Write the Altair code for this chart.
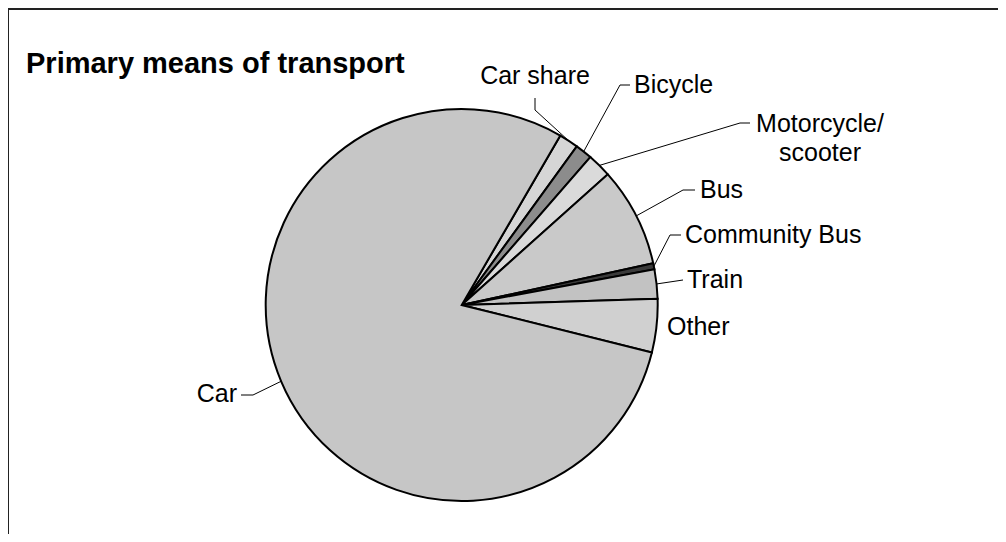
import math
import altair as alt
import pandas as pd

# ---------------- data ----------------
categories = ["Car share", "Bicycle", "Motorcycle/scooter", "Bus",
              "Community Bus", "Train", "Other", "Car"]
shares = [1.6, 1.4, 2.0, 8.2, 0.5, 2.4, 4.4, 79.5]
label_texts = ["Car share", "Bicycle", "Motorcycle/\nscooter", "Bus",
               "Community Bus", "Train", "Other", "Car"]
title_text = "Primary means of transport"

# ---------------- styles / layout ----------------
fills = ["#d6d6d6", "#8c8c8c", "#dadada", "#c9c9c9",
         "#3a3a3a", "#c2c2c2", "#d0d0d0", "#c6c6c6"]
FONT = "Liberation Sans"
W, H = 990, 526
OFF = 8  # page margin
CX, CY = 461.7 - OFF, 305 - OFF
R = 196
START = math.radians(30.2)

# label anchor (page coords) and alignment
label_x = [535, 634, 820, 700, 685, 687, 667, 237]
label_y = [76, 85, 124, 190, 235, 280, 327, 394]
label_align = ["center", "left", "center", "left", "left", "left", "left", "right"]
# leader line elbow/end points (page coords), after the slice edge point
leader_pts = [
    [(535, 110), (535, 98)],
    [(620, 85), (630, 85)],
    [(740, 123), (750, 123)],
    [(683, 190), (695, 190)],
    [(670, 235), (681, 235)],
    [(683, 280)],
    [],
    [(253, 395), (241, 395)],
]

# ---------------- tables ----------------
pie_df = pd.DataFrame({"category": categories, "share": shares,
                       "order": list(range(len(categories))), "fill": fills})

total = sum(shares)
rows = []
cum = 0.0
for i, (cat, s) in enumerate(zip(categories, shares)):
    mid = START + 2 * math.pi * (cum + s / 2) / total
    cum += s
    pts = leader_pts[i]
    if not pts:
        continue
    ex, ey = CX + R * math.sin(mid), CY - R * math.cos(mid)
    rows.append({"name": cat, "k": 0, "px": ex, "py": ey})
    for k, (px, py) in enumerate(pts, start=1):
        rows.append({"name": cat, "k": k, "px": px - OFF, "py": py - OFF})
leader_df = pd.DataFrame(rows)

lab_df = pd.DataFrame({
    "text": label_texts,
    "lx": [x - OFF for x in label_x],
    "ly": [y - OFF for y in label_y],
    "align": label_align,
})

# ---------------- layers ----------------
pie = alt.Chart(pie_df).mark_arc(outerRadius=R, stroke="black", strokeWidth=2).encode(
    theta=alt.Theta("share:Q", stack=True,
                    scale=alt.Scale(range=[START, START + 2 * math.pi])),
    order=alt.Order("order:Q"),
    color=alt.Color("fill:N", scale=None),
    x=alt.value(CX), y=alt.value(CY),
)

leaders = alt.Chart(leader_df).mark_line(color="black", strokeWidth=1).encode(
    x=alt.X("px:Q", scale=None),
    y=alt.Y("py:Q", scale=None),
    detail="name:N",
    order="k:Q",
)

text_layers = []
for a in ["left", "center", "right"]:
    text_layers.append(
        alt.Chart(lab_df).transform_filter(alt.datum.align == a).mark_text(
            align=a, baseline="middle", font=FONT, fontSize=25,
            lineBreak="\n", lineHeight=29, color="black",
        ).encode(
            x=alt.X("lx:Q", scale=None),
            y=alt.Y("ly:Q", scale=None),
            text="text:N",
        )
    )

title_df = pd.DataFrame({"t": [title_text]})
title = alt.Chart(title_df).mark_text(
    align="left", baseline="alphabetic", font=FONT, fontSize=29,
    fontWeight="bold", color="black",
).encode(x=alt.value(26 - OFF), y=alt.value(73 - OFF), text="t:N")

frame_df = pd.DataFrame({"a": [0]})
frame_top = alt.Chart(frame_df).mark_rule(color="#222", strokeWidth=2).encode(
    x=alt.value(0), x2=alt.value(W), y=alt.value(1))
frame_left = alt.Chart(frame_df).mark_rule(color="#222", strokeWidth=2).encode(
    x=alt.value(0), y=alt.value(0), y2=alt.value(H))

chart = alt.layer(pie, leaders, *text_layers, title, frame_top, frame_left).properties(
    width=W, height=H, padding=0,
    autosize=alt.AutoSizeParams(type="none"),
).configure_view(strokeWidth=0)

chart.save("out.html", embed_options={"renderer": "svg", "actions": False})
